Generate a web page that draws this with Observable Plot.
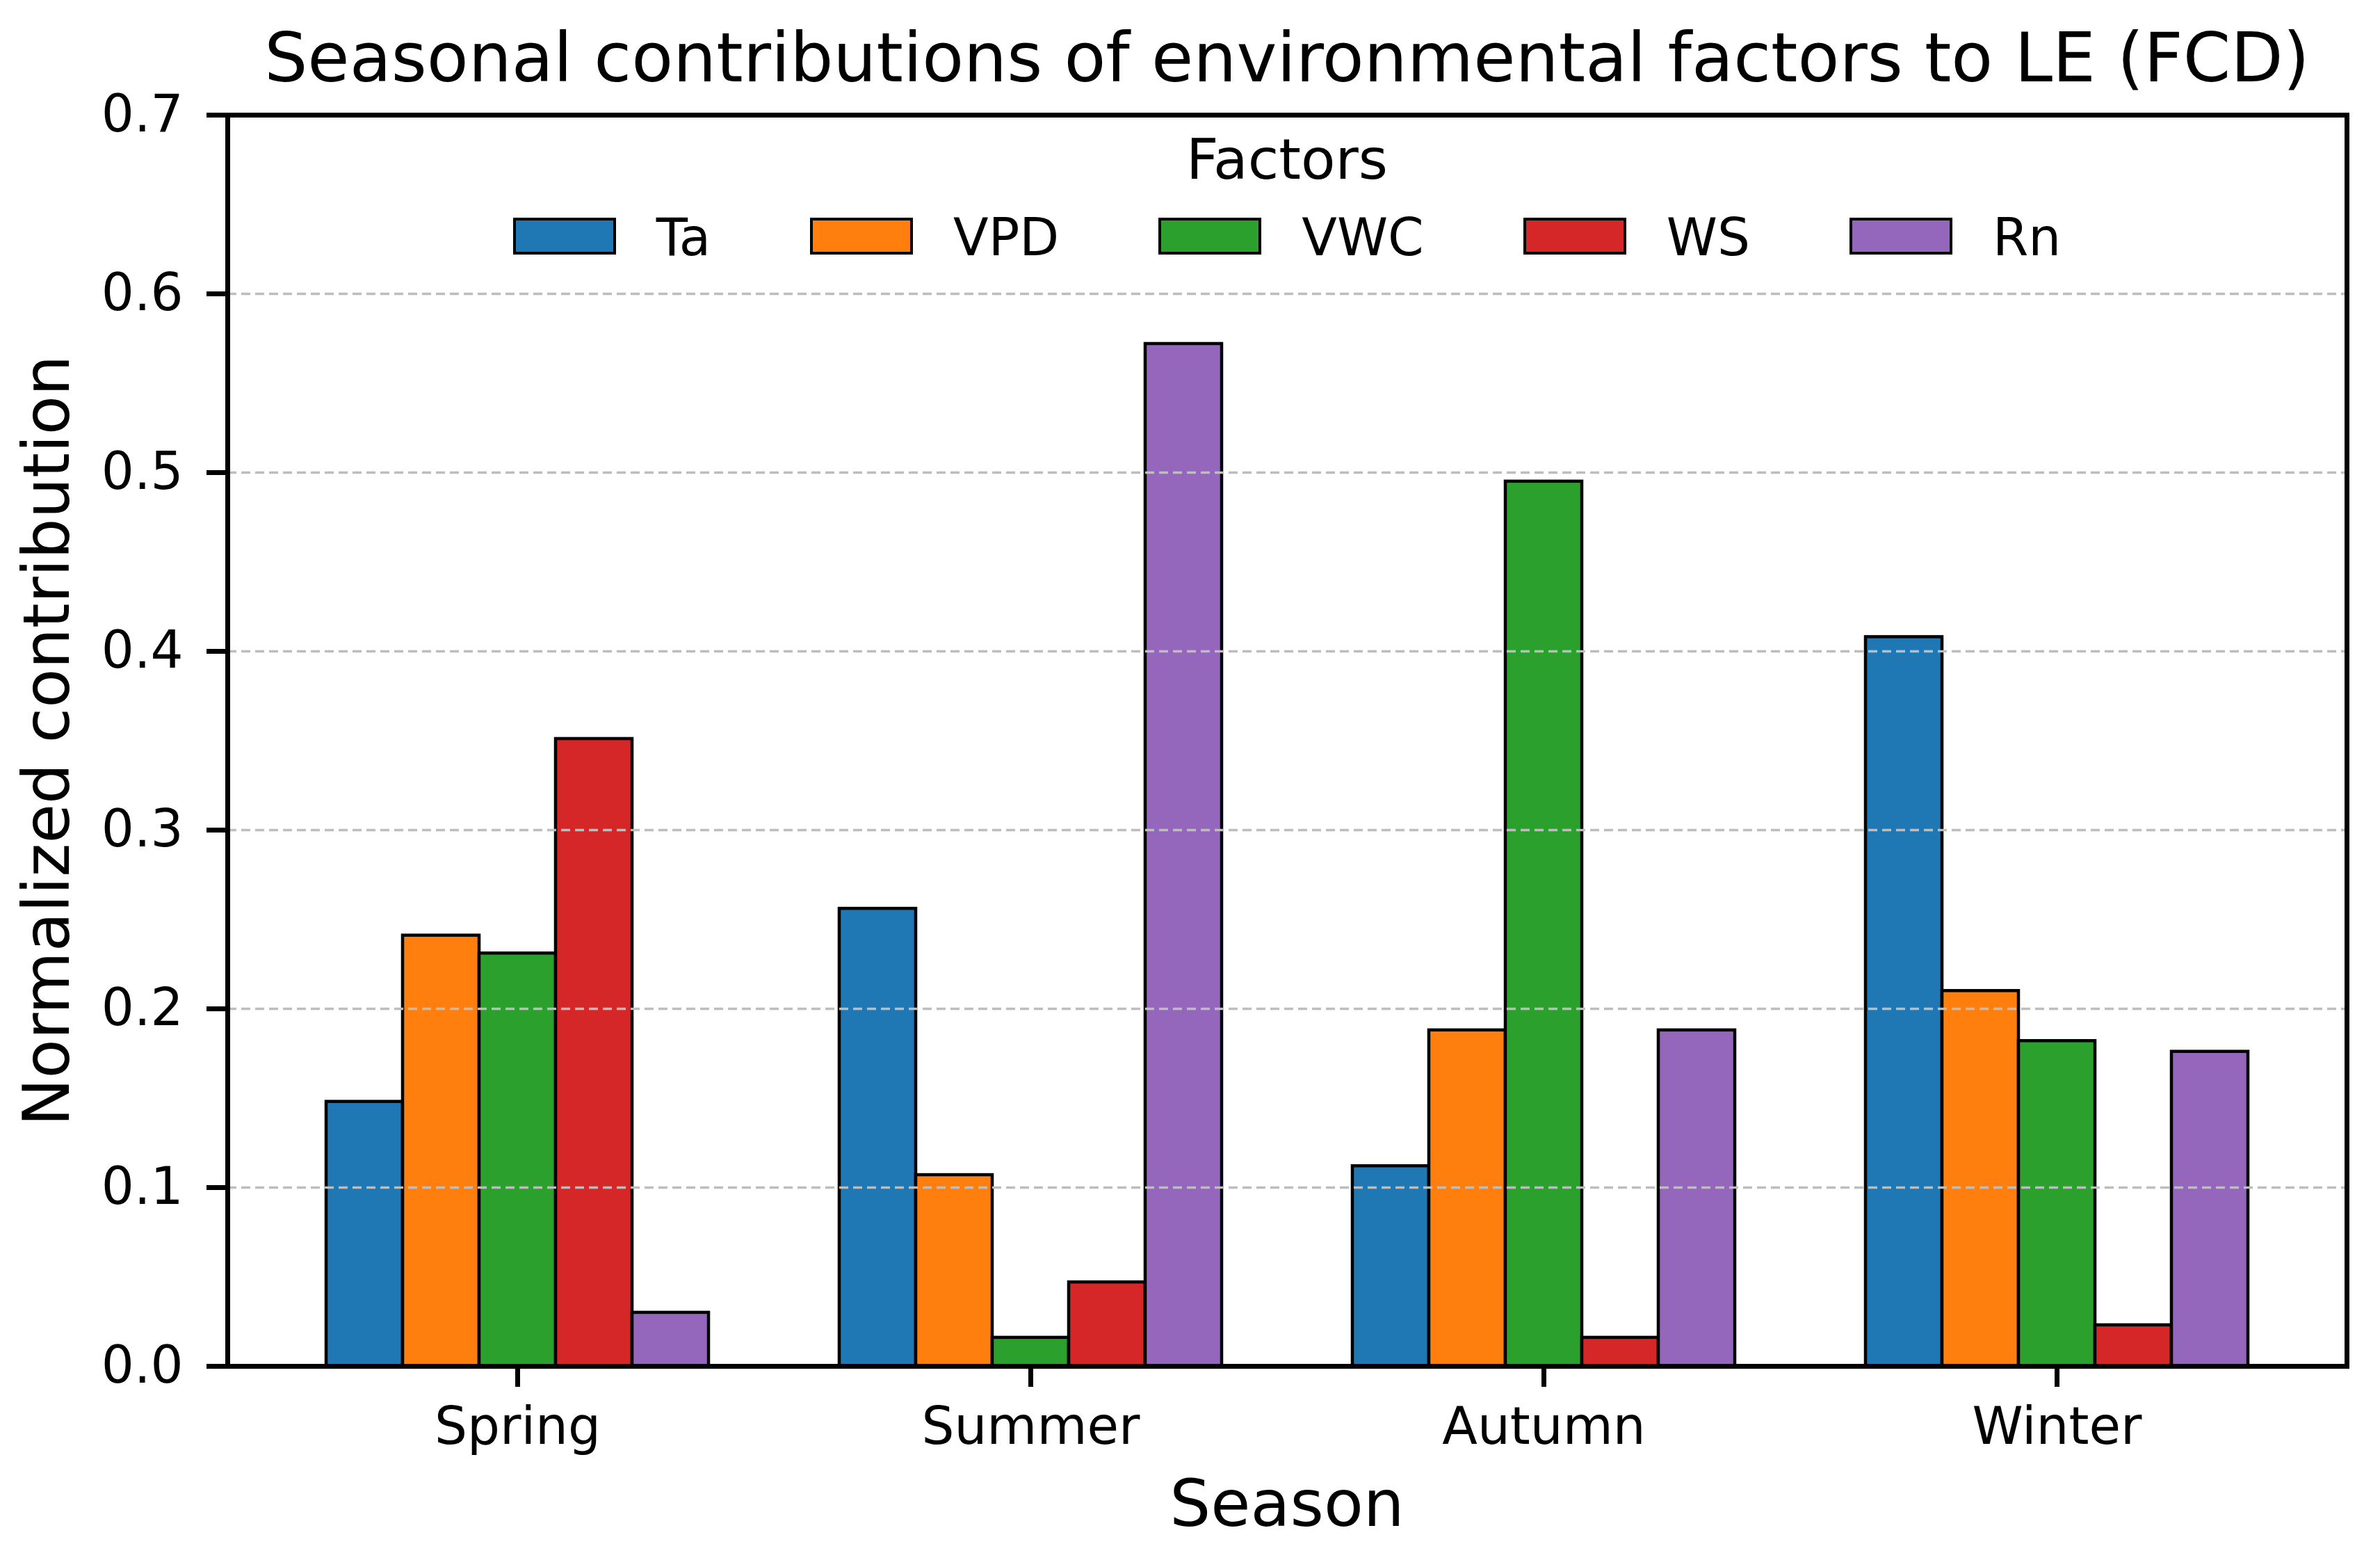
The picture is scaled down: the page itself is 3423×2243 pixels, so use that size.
<!DOCTYPE html>
<html>
<head>
<meta charset="utf-8">
<script src="https://cdn.jsdelivr.net/npm/d3@7"></script>
<script src="https://cdn.jsdelivr.net/npm/@observablehq/plot@0.6"></script>
<style>
  html, body { margin: 0; padding: 0; background: #fff; }
  body { font-family: "DejaVu Sans", sans-serif; color: #000; }
  #wrap { position: relative; width: 3423px; height: 2243px; overflow: hidden; background: #fff; }
  .layer { position: absolute; left: 0; top: 0; }
  #overlay { pointer-events: none; }
  .lbl { position: absolute; white-space: nowrap; text-align: center; }
  #title { left: 327px; width: 3048px; top: 34px; font-size: 98px; line-height: 98px; }
  #xlabel { left: 327px; width: 3048px; top: 2116px; font-size: 93px; line-height: 93px; }
  #ylabel { left: -832.4px; top: 1018.5px; width: 1800px; height: 92px; font-size: 92px; line-height: 92px; transform: rotate(-90deg); transform-origin: 50% 50%; }
  #legtitle { left: 327px; width: 3048px; top: 188.5px; font-size: 81px; line-height: 81px; }
  #legend { position: absolute; left: 327px; width: 3048px; top: 304px; display: flex; justify-content: center; gap: 143px; }
  .item { display: flex; align-items: flex-start; gap: 58px; }
  .sw { width: 148px; height: 53px; box-sizing: border-box; border: 4px solid #000; margin-top: 9px; }
  .it { font-size: 74px; line-height: 74px; }
</style>
</head>
<body>
<div id="wrap">
  <div class="layer" id="bars"></div>
  <div class="layer" id="overlay"></div>
  <div class="lbl" id="title"></div>
  <div class="lbl" id="legtitle"></div>
  <div id="legend"></div>
  <div class="lbl" id="xlabel"></div>
  <div class="lbl" id="ylabel"></div>
</div>
<script>
// ---- data ----
const seasons = ["Spring", "Summer", "Autumn", "Winter"];
const factors = ["Ta", "VPD", "VWC", "WS", "Rn"];
const Ta  = [0.148, 0.256, 0.112, 0.408];
const VPD = [0.241, 0.107, 0.188, 0.210];
const VWC = [0.231, 0.016, 0.495, 0.182];
const WS  = [0.351, 0.047, 0.016, 0.023];
const Rn  = [0.030, 0.572, 0.188, 0.176];
const yTicks = [0.0, 0.1, 0.2, 0.3, 0.4, 0.5, 0.6, 0.7];
const gridTicks = [0.1, 0.2, 0.3, 0.4, 0.5, 0.6];
const titleText = "Seasonal contributions of environmental factors to LE (FCD)";
const xLabelText = "Season";
const yLabelText = "Normalized contribution";
const legendTitleText = "Factors";

// ---- style ----
const colors = ["#1f77b4", "#ff7f0e", "#2ca02c", "#d62728", "#9467bd"];

const series = [Ta, VPD, VWC, WS, Rn];
const data = seasons.flatMap((s, i) => factors.map((f, j) => ({season: s, factor: f, value: series[j][i]})));

const dims = {
  width: 3423,
  height: 2243,
  marginLeft: 327,
  marginRight: 48,
  marginTop: 165,
  marginBottom: 279
};
const seasonScale = {type: "band", domain: seasons, paddingInner: 0.25, paddingOuter: 0.1873, label: null};
const yScale = {domain: [0, 0.7], label: null};

// bottom layer: grouped bars
const barsChart = Plot.plot({
  ...dims,
  style: {fontFamily: "DejaVu Sans", fontSize: "74px", background: "white", color: "black"},
  fx: {...seasonScale, axis: null},
  x: {domain: factors, paddingInner: 0, paddingOuter: 0, axis: null},
  y: {...yScale, axis: null},
  color: {domain: factors, range: colors},
  marks: [
    Plot.barY(data, {fx: "season", x: "factor", y: "value", fill: "factor", stroke: "black", strokeWidth: 4.5, inset: 0})
  ]
});
document.getElementById("bars").appendChild(barsChart);

// top layer: grid, spines, axes
const axesChart = Plot.plot({
  ...dims,
  style: {fontFamily: "DejaVu Sans", fontSize: "74px", background: "transparent", color: "black", overflow: "visible"},
  x: seasonScale,
  y: yScale,
  marks: [
    Plot.gridY(gridTicks, {stroke: "#bdbdbd", strokeOpacity: 1, strokeWidth: 3.5, strokeDasharray: "13,7"}),
    Plot.frame({stroke: "black", strokeWidth: 7}),
    Plot.axisY(yTicks, {tickSize: 30, tickPadding: 34, strokeWidth: 7, tickFormat: d => d.toFixed(1), label: null, fontSize: 74}),
    Plot.axisX({tickSize: 30, tickPadding: 29, strokeWidth: 7, label: null, fontSize: 74})
  ]
});
document.getElementById("overlay").appendChild(axesChart);

document.getElementById("title").textContent = titleText;
document.getElementById("xlabel").textContent = xLabelText;
document.getElementById("ylabel").textContent = yLabelText;
document.getElementById("legtitle").textContent = legendTitleText;

const leg = d3.select("#legend");
factors.forEach((f, i) => {
  const it = leg.append("div").attr("class", "item");
  it.append("div").attr("class", "sw").style("background", colors[i]);
  it.append("span").attr("class", "it").text(f);
});
</script>
</body>
</html>
